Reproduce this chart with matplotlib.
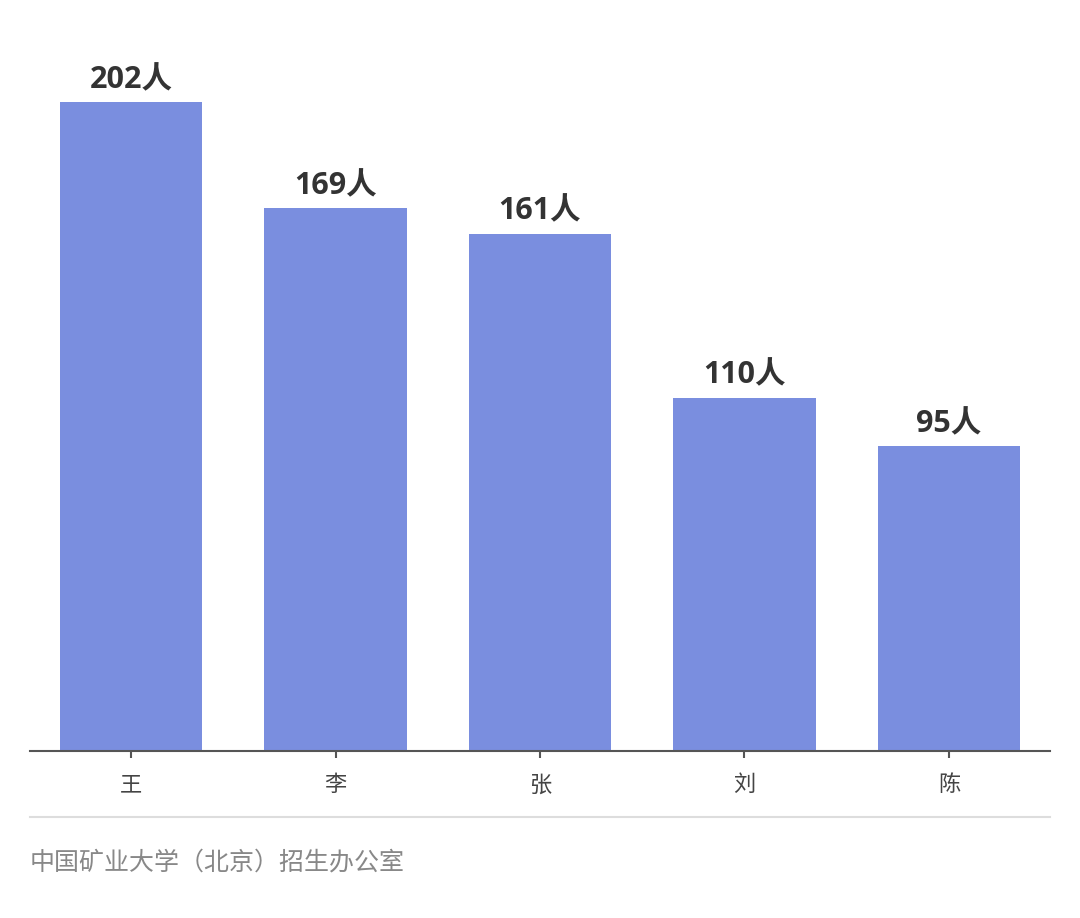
import matplotlib
matplotlib.use("Agg")
import matplotlib.pyplot as plt
from matplotlib.lines import Line2D

plt.rcParams['font.family'] = ['Noto Sans CJK SC', 'DejaVu Sans']

categories = ["王", "李", "张", "刘", "陈"]
values = [202, 169, 161, 110, 95]
labels = [f"{v}人" for v in values]
source = "中国矿业大学（北京）招生办公室"

W, H = 1080, 918
fig = plt.figure(figsize=(W / 100, H / 100), dpi=100)
fig.patch.set_facecolor("white")

left, right, bottom, top = 30, 1050, 751, 40
ax = fig.add_axes([left / W, 1 - bottom / H, (right - left) / W, (bottom - top) / H])
scale = 649 / 202.0
ax.set_ylim(0, (bottom - top) / scale)
ax.set_xlim(-0.494, 4.494)

x = range(len(categories))
ax.bar(x, values, width=0.695, color="#7a8edf", zorder=2)
for xi, v, lab in zip(x, values, labels):
    ax.annotate(lab, (xi, v), xytext=(0, 5), textcoords="offset points",
                ha="center", va="bottom", fontsize=22, fontweight="bold",
                color="#333333", family=["Open Sans", "Noto Sans CJK SC"])

for s in ["top", "right", "left"]:
    ax.spines[s].set_visible(False)
ax.spines["bottom"].set_color("#555555")
ax.spines["bottom"].set_linewidth(1.5)
ax.set_yticks([])
ax.set_xticks(list(x))
ax.set_xticklabels(categories, fontsize=16, color="#444444")
ax.tick_params(axis="x", length=5, width=1.5, color="#555555", pad=11)

fig.add_artist(Line2D([left / W, right / W], [1 - 817 / H, 1 - 817 / H],
                      color="#dddddd", linewidth=1.5, transform=fig.transFigure))
fig.text(30 / W, 1 - 862 / H, source, fontsize=18, color="#888888",
         ha="left", va="center")

fig.savefig("out.png", dpi=100, facecolor="white")
